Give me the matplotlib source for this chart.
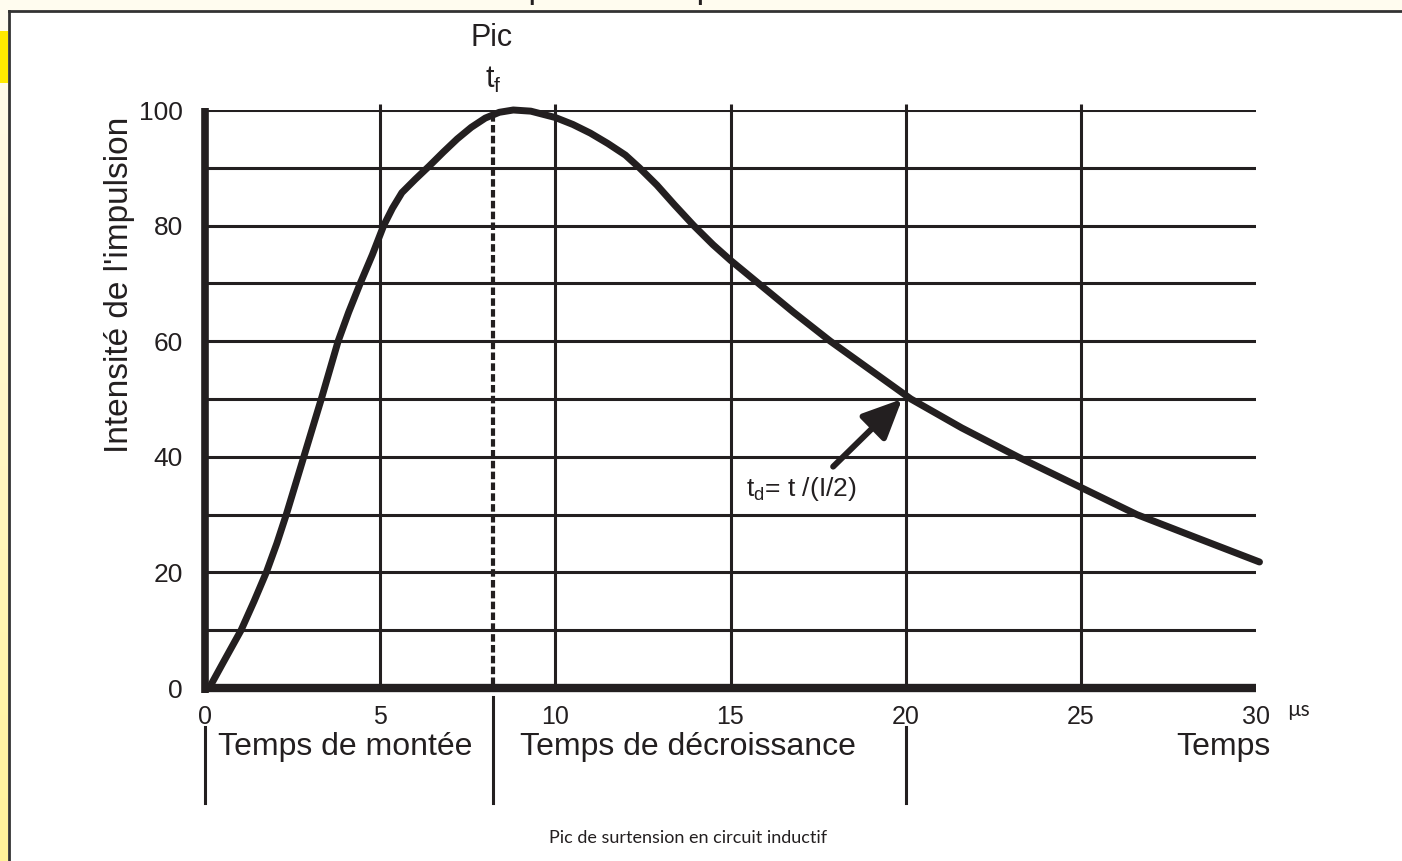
import matplotlib.pyplot as plt
import numpy as np
from matplotlib.patches import Rectangle
from matplotlib.lines import Line2D

# impulse curve (time in us, intensity in %)
t_us = [0.12, 0.5, 1.03, 1.4, 1.75, 2.05, 2.32, 2.57, 2.82, 3.07, 3.32,
        3.56, 3.8, 4.1, 4.43, 4.78, 5.1, 5.35, 5.62, 6.0, 6.4, 6.8, 7.2,
        7.6, 8.0, 8.4, 8.8, 9.3, 10.0, 10.5, 11.0, 11.5, 12.0, 12.4, 12.9,
        13.4, 13.95, 14.5, 15.0, 15.8, 16.8, 17.85, 19.0, 20.15, 21.6,
        23.2, 24.9, 26.6, 28.3, 30.1]
intensity = [0, 4.2, 10, 15, 20, 25, 30, 35, 40, 45, 50,
             55, 60, 65, 70, 75, 80, 83, 85.7, 88, 90.3, 92.7, 95,
             97, 98.6, 99.6, 100, 99.8, 98.7, 97.5, 96, 94.2, 92.2, 90, 87,
             83.6, 80, 76.7, 74, 70, 65, 60, 55, 50, 45,
             40, 35, 30, 26, 21.8]

x_ticks = [0, 5, 10, 15, 20, 25, 30]
y_ticks = [0, 20, 40, 60, 80, 100]
x_grid = [5, 10, 15, 20, 25]
y_grid = [10, 20, 30, 40, 50, 60, 70, 80, 90, 100]

t_peak = 8.22          # t_f, peak time
t_half = 20.0          # t_d, half value time
separators = [0, t_peak, t_half]
phase_labels = ["Temps de montée", "Temps de décroissance"]

ink = '#231f20'
plt.rcParams['font.family'] = ['Liberation Sans', 'DejaVu Sans']

fig = plt.figure(figsize=(14.02, 8.61), dpi=100, facecolor='white')
W, H = 1402.0, 861.0

# page decoration: cream strip on top, yellow gradient on the left, frame
fig.patches.append(Rectangle((0, 1 - 11 / H), 1, 11 / H, transform=fig.transFigure,
                             facecolor='#fffcef', edgecolor='none', zorder=0))
gax = fig.add_axes([0, 0, 8 / W, 1 - 11 / H], zorder=0)
grad = np.linspace(0, 1, 256).reshape(-1, 1)
cols = np.array([[1.0, 0.99, 0.94]]) * (1 - grad[:, :, None]) + \
    np.array([[1.0, 0.95, 0.60]]) * grad[:, :, None]
gax.imshow(cols, aspect='auto', origin='upper')
gax.axis('off')
fig.patches.append(Rectangle((0, 1 - 83 / H), 8 / W, 52 / H, transform=fig.transFigure,
                             facecolor='#ffea00', edgecolor='none', zorder=1))
fig.lines.append(Line2D([9 / W, 1], [1 - 11 / H] * 2, transform=fig.transFigure,
                        color='#333333', lw=2))
fig.lines.append(Line2D([9 / W] * 2, [0, 1 - 11 / H], transform=fig.transFigure,
                        color='#333333', lw=2))

# title cut off by the top edge, only the descenders show
fig.text(319 / W, 1 + 2 / H, "Forme de l'impulsion de pic", ha='left',
         va='baseline', fontsize=25, color=ink)

ax = fig.add_axes([205 / W, 173 / H, 1051 / W, 578 / H])
ax.set_xlim(0, 30)
ax.set_ylim(0, 100)
for s in ax.spines.values():
    s.set_visible(False)
ax.patch.set_alpha(0)

# grid
ax.hlines(y_grid, 0, 30, color=ink, lw=2.2, zorder=1)
ax.vlines(x_grid, 0, 101, color=ink, lw=2.2, zorder=1, clip_on=False)
# thick axes
ax.plot([0, 0], [-0.8, 100.4], color=ink, lw=5.5, solid_capstyle='butt',
        zorder=3, clip_on=False)
ax.plot([0, 30], [0, 0], color=ink, lw=6, solid_capstyle='butt',
        zorder=3, clip_on=False)

# peak marker
ax.plot([t_peak, t_peak], [0.6, 99.5], color=ink, lw=3,
        ls=(0, (1.8, 0.8)), zorder=2)

# the impulse
ax.plot(t_us, intensity, color=ink, lw=5, solid_capstyle='round',
        solid_joinstyle='round', zorder=4, clip_on=False)

# ticks
ax.set_xticks(x_ticks)
ax.set_xticklabels([str(v) for v in x_ticks])
ax.set_yticks(y_ticks)
ax.set_yticklabels([str(v) for v in y_ticks])
ax.tick_params(axis='x', length=0, pad=12, labelsize=18, labelcolor=ink)
ax.tick_params(axis='y', length=0, pad=16, labelsize=19, labelcolor=ink)
ax.text(30.9, -4.9, "µs", fontsize=15, color=ink, ha='left', va='baseline',
        family=['Lato', 'DejaVu Sans'])

ax.text(-0.081, 0.697, "Intensité de l'impulsion", transform=ax.transAxes,
        rotation=90, ha='center', va='center', fontsize=24, color=ink)

# peak label
ax.text(t_peak - 0.05, 112.4, "Pic", ha='center', va='center', fontsize=22,
        color=ink, clip_on=False)
ax.text(t_peak, 103.8, r"t$_{\mathregular{f}}$", ha='center', va='baseline',
        fontsize=22, color=ink, clip_on=False)

# half-value arrow and label
ax.annotate("", xy=(19.9, 50.0), xytext=(17.93, 38.3),
            arrowprops=dict(arrowstyle='-|>,head_length=1.2,head_width=0.55',
                            mutation_scale=20, lw=4.3, color=ink,
                            shrinkA=0, shrinkB=0), zorder=5)
ax.text(15.45, 33.3, r"t$_{\mathregular{d}}$= t /(I/2)", ha='left',
        va='baseline', fontsize=19, color=ink)

# phase separators below the axis
for xs in separators:
    y_top = -1.6 if xs == t_peak else -6.8
    ax.plot([xs, xs], [y_top, -19.9], color=ink, lw=2.2, clip_on=False)

ax.text(0.37, -11.6, phase_labels[0], ha='left', va='baseline', fontsize=23,
        color=ink)
ax.text(9.0, -11.6, phase_labels[1], ha='left', va='baseline', fontsize=23,
        color=ink)
ax.text(30.4, -11.6, "Temps", ha='right', va='baseline', fontsize=23, color=ink)

fig.text(688 / W, 1 - 838 / H, "Pic de surtension en circuit inductif",
         ha='center', va='center', fontsize=13, color=ink,
         family=['Lato', 'DejaVu Sans'])

fig.savefig('out.png', dpi=100, facecolor=fig.get_facecolor())
